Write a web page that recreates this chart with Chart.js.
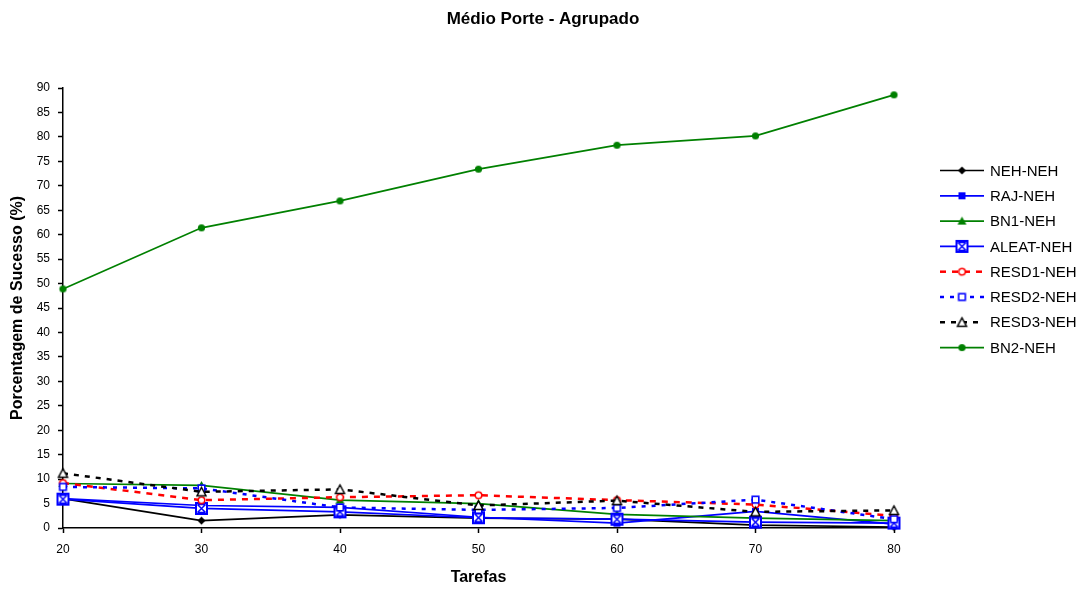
<!DOCTYPE html>
<html>
<head>
<meta charset="utf-8">
<script src="https://cdn.jsdelivr.net/npm/chart.js@4.4.1/dist/chart.umd.min.js"></script>
<style>
  html, body { margin: 0; padding: 0; background: #fff; }
  #wrap { width: 1087px; height: 589px; position: relative; }
</style>
</head>
<body>
<div id="wrap"><canvas id="c" width="1087" height="589"></canvas></div>
<script>
// Número de tarefas (eixo x)
const tarefas = [20, 30, 40, 50, 60, 70, 80];
const yTicks = [0, 5, 10, 15, 20, 25, 30, 35, 40, 45, 50, 55, 60, 65, 70, 75, 80, 85, 90];

// Porcentagem de sucesso por heurística
const nehNeh   = [6.0, 1.5, 2.7, 2.0, 1.8, 0.6, 0.2];
const rajNeh   = [6.0, 4.6, 4.2, 2.2, 1.0, 3.4, 0.8];
const bn1Neh   = [9.1, 8.7, 5.7, 5.0, 2.8, 2.0, 1.5];
const aleatNeh = [5.9, 4.0, 3.3, 2.1, 1.8, 1.2, 1.0];
const resd1Neh = [9.2, 5.7, 6.3, 6.7, 5.7, 4.8, 2.5];
const resd2Neh = [8.4, 8.1, 4.2, 3.7, 4.1, 5.8, 1.8];
const resd3Neh = [11.2, 7.4, 7.9, 4.6, 5.6, 3.3, 3.6];
const bn2Neh   = [48.9, 61.4, 66.9, 73.4, 78.3, 80.2, 88.6];

const FONT = '"Liberation Sans", Arial, sans-serif';

// Marcadores desenhados em pequenos canvas
function marker(size, draw) {
  const c = document.createElement('canvas');
  c.width = size; c.height = size;
  const g = c.getContext('2d');
  draw(g, size / 2);
  return c;
}
const mDiamond = marker(11, (g, m) => {
  g.fillStyle = '#000'; g.beginPath();
  g.moveTo(m, m - 4); g.lineTo(m + 4, m); g.lineTo(m, m + 4); g.lineTo(m - 4, m); g.closePath(); g.fill();
});
const mSquareBlue = marker(9, (g, m) => {
  g.fillStyle = '#0000ff'; g.fillRect(m - 3.5, m - 3.5, 7, 7);
});
const mTriGreen = marker(11, (g, m) => {
  g.fillStyle = '#008000'; g.beginPath();
  g.moveTo(m, m - 4.5); g.lineTo(m + 4.5, m + 3.5); g.lineTo(m - 4.5, m + 3.5); g.closePath(); g.fill();
});
const mAleat = marker(15, (g, m) => {
  g.strokeStyle = '#0000ff'; g.lineWidth = 2;
  g.fillStyle = '#fff';
  g.fillRect(m - 5.5, m - 5.5, 11, 11);
  g.strokeRect(m - 5.5, m - 5.5, 11, 11);
  g.lineWidth = 1.5; g.beginPath();
  g.moveTo(m - 4, m - 4); g.lineTo(m + 4, m + 4);
  g.moveTo(m + 4, m - 4); g.lineTo(m - 4, m + 4);
  g.moveTo(m - 4, m - 4); g.lineTo(m + 4, m - 4);
  g.moveTo(m - 4, m + 4); g.lineTo(m + 4, m + 4);
  g.stroke();
});
const mCircleRed = marker(11, (g, m) => {
  g.fillStyle = '#fff'; g.strokeStyle = '#ff0000'; g.lineWidth = 1.6;
  g.beginPath(); g.arc(m, m, 3.3, 0, Math.PI * 2); g.fill(); g.stroke();
});
const mSquareOpen = marker(11, (g, m) => {
  g.fillStyle = '#fff'; g.strokeStyle = '#0000ff'; g.lineWidth = 1.6;
  g.fillRect(m - 3.3, m - 3.3, 6.6, 6.6); g.strokeRect(m - 3.3, m - 3.3, 6.6, 6.6);
});
const mTriOpen = marker(13, (g, m) => {
  g.fillStyle = '#fff'; g.strokeStyle = '#000'; g.lineWidth = 1.5;
  g.beginPath(); g.moveTo(m, m - 4.5); g.lineTo(m + 4.5, m + 4); g.lineTo(m - 4.5, m + 4); g.closePath();
  g.fill(); g.stroke();
});
const mCircleGreen = marker(11, (g, m) => {
  g.fillStyle = '#008000'; g.beginPath(); g.arc(m, m, 3.6, 0, Math.PI * 2); g.fill();
});

function serie(label, values, color, pt, dash, width, order) {
  return {
    label,
    data: tarefas.map((t, i) => ({ x: t, y: values[i] })),
    borderColor: color,
    backgroundColor: color,
    borderWidth: width,
    borderDash: dash,
    pointStyle: pt,
    pointRadius: 5,
    pointHoverRadius: 5,
    tension: 0,
    clip: false,
    order
  };
}

const datasets = [
  serie('NEH-NEH',   nehNeh,   '#000000', mDiamond,     [],     1.7, 8),
  serie('RAJ-NEH',   rajNeh,   '#0000ff', mSquareBlue,  [],     1.7, 7),
  serie('BN1-NEH',   bn1Neh,   '#008000', mTriGreen,    [],     1.7, 6),
  serie('ALEAT-NEH', aleatNeh, '#0000ff', mAleat,       [],     1.7, 5),
  serie('RESD1-NEH', resd1Neh, '#ff0000', mCircleRed,   [6, 6], 2.5, 4),
  serie('RESD2-NEH', resd2Neh, '#0000ff', mSquareOpen,  [4, 6], 2.5, 3),
  serie('RESD3-NEH', resd3Neh, '#000000', mTriOpen,     [5, 6], 2.5, 2),
  serie('BN2-NEH',   bn2Neh,   '#008000', mCircleGreen, [],     1.7, 1)
];

// Título, títulos dos eixos e legenda
const decor = {
  id: 'decor',
  afterDraw(chart) {
    const ctx = chart.ctx;
    const a = chart.chartArea;
    ctx.save();
    ctx.fillStyle = '#000';
    ctx.textAlign = 'center';
    ctx.textBaseline = 'middle';
    ctx.font = 'bold 17px ' + FONT;
    ctx.fillText('Médio Porte - Agrupado', 543, 19);
    ctx.font = 'bold 16px ' + FONT;
    ctx.fillText('Tarefas', (a.left + a.right) / 2, 578);
    ctx.save();
    ctx.translate(18, (a.top + a.bottom) / 2);
    ctx.rotate(-Math.PI / 2);
    ctx.fillText('Porcentagem de Sucesso (%)', 0, 0);
    ctx.restore();

    ctx.font = '15px ' + FONT;
    ctx.textAlign = 'left';
    chart.data.datasets.forEach((ds, i) => {
      const y = 170.5 + i * 25.3;
      ctx.save();
      ctx.strokeStyle = ds.borderColor;
      ctx.lineWidth = ds.borderWidth;
      ctx.setLineDash(ds.borderDash);
      ctx.beginPath(); ctx.moveTo(940, y); ctx.lineTo(984, y); ctx.stroke();
      ctx.restore();
      const img = ds.pointStyle;
      ctx.drawImage(img, 962 - img.width / 2, y - img.height / 2);
      ctx.fillStyle = '#000';
      ctx.fillText(ds.label, 990, y + 1);
    });
    ctx.restore();
  }
};

new Chart(document.getElementById('c'), {
  type: 'line',
  data: { datasets },
  options: {
    responsive: false,
    animation: false,
    events: [],
    layout: { padding: { left: 0, right: 193, top: 88, bottom: 0 } },
    plugins: { legend: { display: false }, title: { display: false }, tooltip: { enabled: false } },
    scales: {
      x: {
        type: 'linear',
        min: 20, max: 80,
        afterBuildTicks(s) { s.ticks = tarefas.map(v => ({ value: v })); },
        afterFit(s) { s.height = 61; },
        grid: { drawOnChartArea: false, color: '#000', tickLength: 5, tickColor: '#000', tickWidth: 1.5 },
        border: { color: '#000', width: 1.5 },
        ticks: { color: '#000', font: { family: FONT, size: 12 }, padding: 9, maxRotation: 0 }
      },
      y: {
        type: 'linear',
        min: 0, max: 90,
        afterBuildTicks(s) { s.ticks = yTicks.map(v => ({ value: v })); },
        afterFit(s) { s.width = 63; },
        grid: { drawOnChartArea: false, color: '#000', tickLength: 5, tickColor: '#000', tickWidth: 1.5 },
        border: { color: '#000', width: 1.5 },
        ticks: { color: '#000', font: { family: FONT, size: 12 }, padding: 8 }
      }
    }
  },
  plugins: [decor]
});
</script>
</body>
</html>
